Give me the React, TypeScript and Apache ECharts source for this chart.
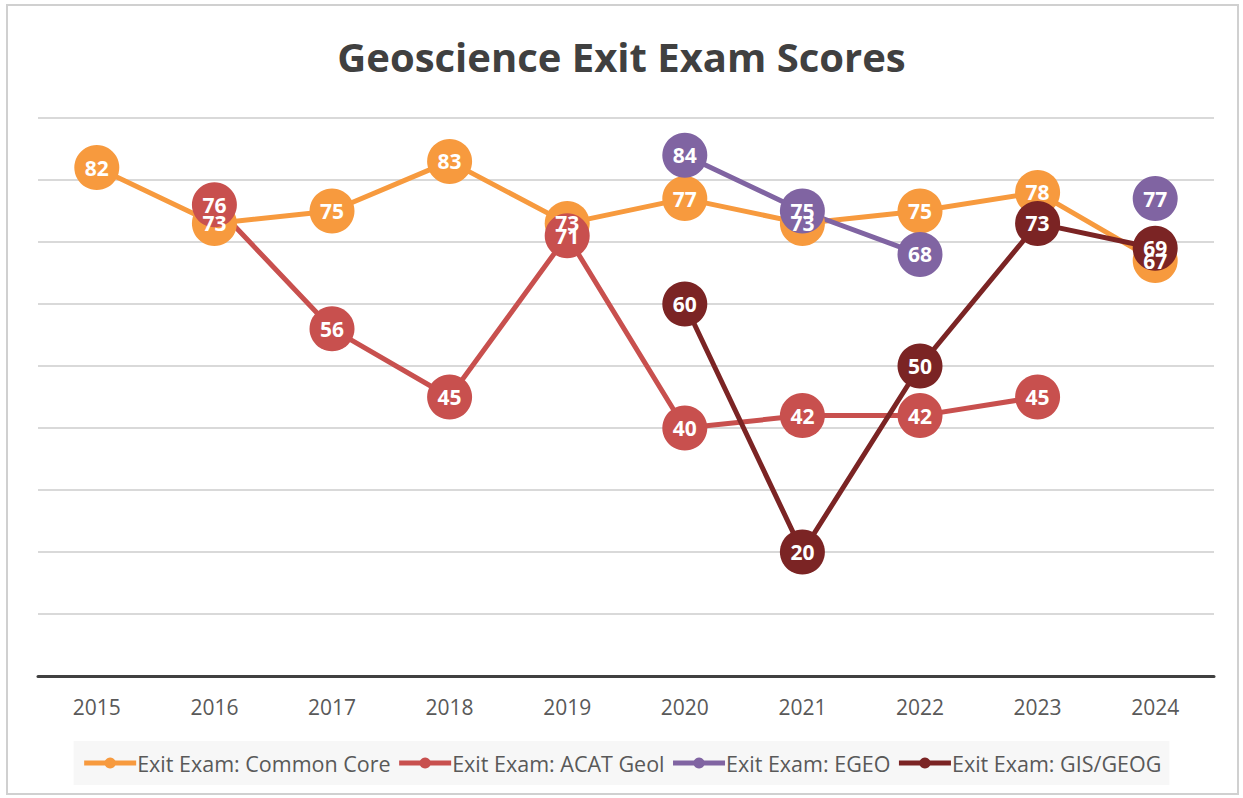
import React, { useEffect, useRef } from "react";
import * as echarts from "echarts";

const years = ["2015", "2016", "2017", "2018", "2019", "2020", "2021", "2022", "2023", "2024"];
const commonCore = [82, 73, 75, 83, 73, 77, 73, 75, 78, 67];
const acatGeol = [null, 76, 56, 45, 71, 40, 42, 42, 45, null];
const egeo = [null, null, null, null, null, 84, 75, 68, null, 77];
const gisGeog = [null, null, null, null, null, 60, 20, 50, 73, 69];

const seriesNames = [
  "Exit Exam: Common Core",
  "Exit Exam: ACAT Geol",
  "Exit Exam: EGEO",
  "Exit Exam: GIS/GEOG",
];
const colors = ["#F79A3E", "#C8504E", "#8064A2", "#7B2424"];

const FONT = "'Open Sans', Lato, sans-serif";

export default function App() {
  const ref = useRef<HTMLDivElement>(null);
  useEffect(() => {
    if (!ref.current) return;
    const chart = echarts.init(ref.current, null, { renderer: "svg" });
    const datasets = [commonCore, acatGeol, egeo, gisGeog];
    chart.setOption({
      animation: false,
      backgroundColor: "#ffffff",
      title: {
        text: "Geoscience Exit Exam Scores",
        left: "center",
        top: 31,
        textStyle: { fontFamily: FONT, fontSize: 40, fontWeight: "bold", color: "#404040" },
      },
      graphic: [
        {
          type: "rect",
          shape: { x: 7, y: 5, width: 1231, height: 789 },
          style: { fill: "none", stroke: "#d0d0d0", lineWidth: 2 },
          silent: true,
        },
      ],
      legend: {
        bottom: 13,
        left: "center",
        data: seriesNames,
        backgroundColor: "#f7f7f7",
        padding: [11, 8, 11, 8],
        itemGap: 6,
        itemWidth: 52,
        itemHeight: 14,
        lineStyle: { width: 5 },
        textStyle: { fontFamily: FONT, fontSize: 21.5, color: "#595959", padding: [0, 0, 0, -4] },
      },
      grid: { left: 38, right: 29, top: 118, bottom: 122 },
      xAxis: {
        type: "category",
        data: years,
        boundaryGap: true,
        axisTick: { show: false },
        axisLine: { lineStyle: { color: "#404040", width: 3 } },
        axisLabel: { fontFamily: FONT, fontSize: 21, color: "#595959", margin: 20 },
      },
      yAxis: {
        type: "value",
        min: 0,
        max: 90,
        interval: 10,
        axisLabel: { show: false },
        axisLine: { show: false },
        axisTick: { show: false },
        splitLine: { lineStyle: { color: "#d9d9d9", width: 2 } },
      },
      series: datasets.map((d, i) => ({
        name: seriesNames[i],
        type: "line",
        data: d,
        connectNulls: false,
        symbol: "circle",
        symbolSize: 45,
        showSymbol: true,
        showAllSymbol: true,
        itemStyle: { color: colors[i] },
        lineStyle: { color: colors[i], width: 5 },
        label: {
          show: true,
          position: "inside",
          color: "#ffffff",
          fontFamily: FONT,
          fontSize: 21,
          fontWeight: "bold",
        },
        emphasis: { disabled: true },
      })),
    });
    return () => chart.dispose();
  }, []);
  return (
    <div
      ref={ref}
      style={{ position: "fixed", left: 0, top: 0, width: 1243, height: 798 }}
    />
  );
}
